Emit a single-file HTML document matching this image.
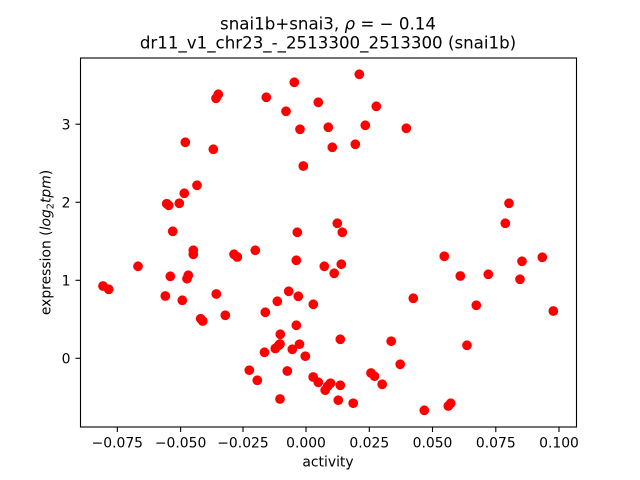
<!DOCTYPE html>
<html><head><meta charset="utf-8"><style>
html,body{margin:0;padding:0;background:#fff;}
svg{display:block;}
text{font-family:"DejaVu Sans","Liberation Sans",sans-serif;fill:#000;}
</style></head><body>
<svg width="640" height="480" viewBox="0 0 640 480" xmlns="http://www.w3.org/2000/svg">
<rect width="640" height="480" fill="#fff"/>
<text x="328" y="29.5" font-size="16.67" text-anchor="middle">snai1b+snai3, <tspan font-style="italic">ρ</tspan> = − 0.14</text>
<text x="328" y="48.5" font-size="16.67" text-anchor="middle">dr11_v1_chr23_-_2513300_2513300 (snai1b)</text>
<g fill="#ff0000" stroke="#ff0000" stroke-width="1.39">
<circle cx="294.3" cy="82.3" r="4.17"/><circle cx="218.3" cy="94.3" r="4.17"/><circle cx="216" cy="98.3" r="4.17"/><circle cx="266.3" cy="97.3" r="4.17"/>
<circle cx="286" cy="111.3" r="4.17"/><circle cx="318.3" cy="102.3" r="4.17"/><circle cx="300" cy="129.3" r="4.17"/><circle cx="185.3" cy="142.3" r="4.17"/>
<circle cx="213.3" cy="149.3" r="4.17"/><circle cx="303.3" cy="166" r="4.17"/><circle cx="197" cy="185.3" r="4.17"/><circle cx="184.3" cy="193.3" r="4.17"/>
<circle cx="166.7" cy="203.7" r="4.17"/><circle cx="168.7" cy="205.3" r="4.17"/><circle cx="179.3" cy="203.3" r="4.17"/><circle cx="172.7" cy="231.3" r="4.17"/>
<circle cx="297.3" cy="232.3" r="4.17"/><circle cx="359.3" cy="74.3" r="4.17"/><circle cx="376.3" cy="106.3" r="4.17"/><circle cx="328.3" cy="127.3" r="4.17"/>
<circle cx="365.3" cy="125.3" r="4.17"/><circle cx="406.3" cy="128.3" r="4.17"/><circle cx="332.3" cy="147.3" r="4.17"/><circle cx="355.3" cy="144.3" r="4.17"/>
<circle cx="509" cy="203.3" r="4.17"/><circle cx="505.3" cy="223.3" r="4.17"/><circle cx="337.3" cy="223.3" r="4.17"/><circle cx="342.3" cy="232.3" r="4.17"/>
<circle cx="193.3" cy="250.3" r="4.17"/><circle cx="193.3" cy="254.3" r="4.17"/><circle cx="234" cy="254.3" r="4.17"/><circle cx="237.3" cy="257" r="4.17"/>
<circle cx="255.3" cy="250.3" r="4.17"/><circle cx="138" cy="266.3" r="4.17"/><circle cx="103" cy="286" r="4.17"/><circle cx="108.7" cy="289.3" r="4.17"/>
<circle cx="170.3" cy="276.3" r="4.17"/><circle cx="188.3" cy="275.3" r="4.17"/><circle cx="187" cy="278.7" r="4.17"/><circle cx="296.3" cy="260.3" r="4.17"/>
<circle cx="165.3" cy="296" r="4.17"/><circle cx="182.3" cy="300.3" r="4.17"/><circle cx="216.3" cy="294" r="4.17"/><circle cx="288.7" cy="291.3" r="4.17"/>
<circle cx="298.3" cy="296.3" r="4.17"/><circle cx="277.3" cy="301.3" r="4.17"/><circle cx="313.3" cy="304.3" r="4.17"/><circle cx="200.7" cy="318.7" r="4.17"/>
<circle cx="202.7" cy="321" r="4.17"/><circle cx="225.3" cy="315.3" r="4.17"/><circle cx="265.3" cy="312.3" r="4.17"/><circle cx="296.3" cy="325.3" r="4.17"/>
<circle cx="280.3" cy="334.3" r="4.17"/><circle cx="264.5" cy="352.3" r="4.17"/><circle cx="275.3" cy="348.5" r="4.17"/><circle cx="278.7" cy="345.3" r="4.17"/>
<circle cx="280" cy="344" r="4.17"/><circle cx="292.3" cy="349.3" r="4.17"/><circle cx="299.5" cy="344.2" r="4.17"/><circle cx="305.3" cy="356.2" r="4.17"/>
<circle cx="249.3" cy="370.2" r="4.17"/><circle cx="257.3" cy="380.3" r="4.17"/><circle cx="287.3" cy="371" r="4.17"/><circle cx="313.2" cy="377" r="4.17"/>
<circle cx="318.3" cy="382.3" r="4.17"/><circle cx="280" cy="399" r="4.17"/><circle cx="324.3" cy="266.3" r="4.17"/><circle cx="341.3" cy="264.2" r="4.17"/>
<circle cx="334.2" cy="273.3" r="4.17"/><circle cx="444.3" cy="256.3" r="4.17"/><circle cx="522" cy="261.3" r="4.17"/><circle cx="542.3" cy="257.3" r="4.17"/>
<circle cx="460.3" cy="276" r="4.17"/><circle cx="488.3" cy="274.3" r="4.17"/><circle cx="520" cy="279.3" r="4.17"/><circle cx="413.3" cy="298.3" r="4.17"/>
<circle cx="476.3" cy="305.3" r="4.17"/><circle cx="553.3" cy="311" r="4.17"/><circle cx="340.3" cy="339.3" r="4.17"/><circle cx="391.2" cy="341.2" r="4.17"/>
<circle cx="467" cy="345.3" r="4.17"/><circle cx="400.2" cy="364.3" r="4.17"/><circle cx="371" cy="373" r="4.17"/><circle cx="374.5" cy="376.2" r="4.17"/>
<circle cx="382.2" cy="384.3" r="4.17"/><circle cx="325.2" cy="390.2" r="4.17"/><circle cx="327.7" cy="386.2" r="4.17"/><circle cx="330.5" cy="383.2" r="4.17"/>
<circle cx="340.3" cy="385.3" r="4.17"/><circle cx="338.3" cy="400.2" r="4.17"/><circle cx="353.2" cy="403.2" r="4.17"/><circle cx="424.3" cy="410.3" r="4.17"/>
<circle cx="448.3" cy="406" r="4.17"/><circle cx="450.7" cy="403.3" r="4.17"/>
</g>
<rect x="80.5" y="58" width="496" height="369" fill="none" stroke="#000" stroke-width="1.1"/>
<g stroke="#000" stroke-width="1.1">
<line x1="117.3" y1="427" x2="117.3" y2="432"/><line x1="180.6" y1="427" x2="180.6" y2="432"/>
<line x1="243" y1="427" x2="243" y2="432"/><line x1="306" y1="427" x2="306" y2="432"/>
<line x1="369.3" y1="427" x2="369.3" y2="432"/><line x1="432.5" y1="427" x2="432.5" y2="432"/>
<line x1="495.8" y1="427" x2="495.8" y2="432"/><line x1="559" y1="427" x2="559" y2="432"/>
<line x1="75.5" y1="358.3" x2="80.5" y2="358.3"/><line x1="75.5" y1="280.3" x2="80.5" y2="280.3"/>
<line x1="75.5" y1="202.3" x2="80.5" y2="202.3"/><line x1="75.5" y1="124.2" x2="80.5" y2="124.2"/>
</g>
<g font-size="13.9" text-anchor="middle">
<text x="117.3" y="447.3">−0.075</text><text x="180.6" y="447.3">−0.050</text>
<text x="243" y="447.3">−0.025</text><text x="306" y="447.3">0.000</text>
<text x="369.3" y="447.3">0.025</text><text x="432.5" y="447.3">0.050</text>
<text x="495.8" y="447.3">0.075</text><text x="559" y="447.3">0.100</text>
</g>
<g font-size="13.9" text-anchor="end">
<text x="70.5" y="363.4">0</text><text x="70.5" y="285.4">1</text>
<text x="70.5" y="207.4">2</text><text x="70.5" y="129.3">3</text>
</g>
<text x="328" y="466.5" font-size="13.9" text-anchor="middle">activity</text>
<text transform="translate(50.5,242.5) rotate(-90)" font-size="13.9" text-anchor="middle">expression (<tspan font-style="italic">log</tspan><tspan font-size="9.7" dy="3">2</tspan><tspan font-style="italic" dy="-3">tpm</tspan>)</text>
</svg>
</body></html>
